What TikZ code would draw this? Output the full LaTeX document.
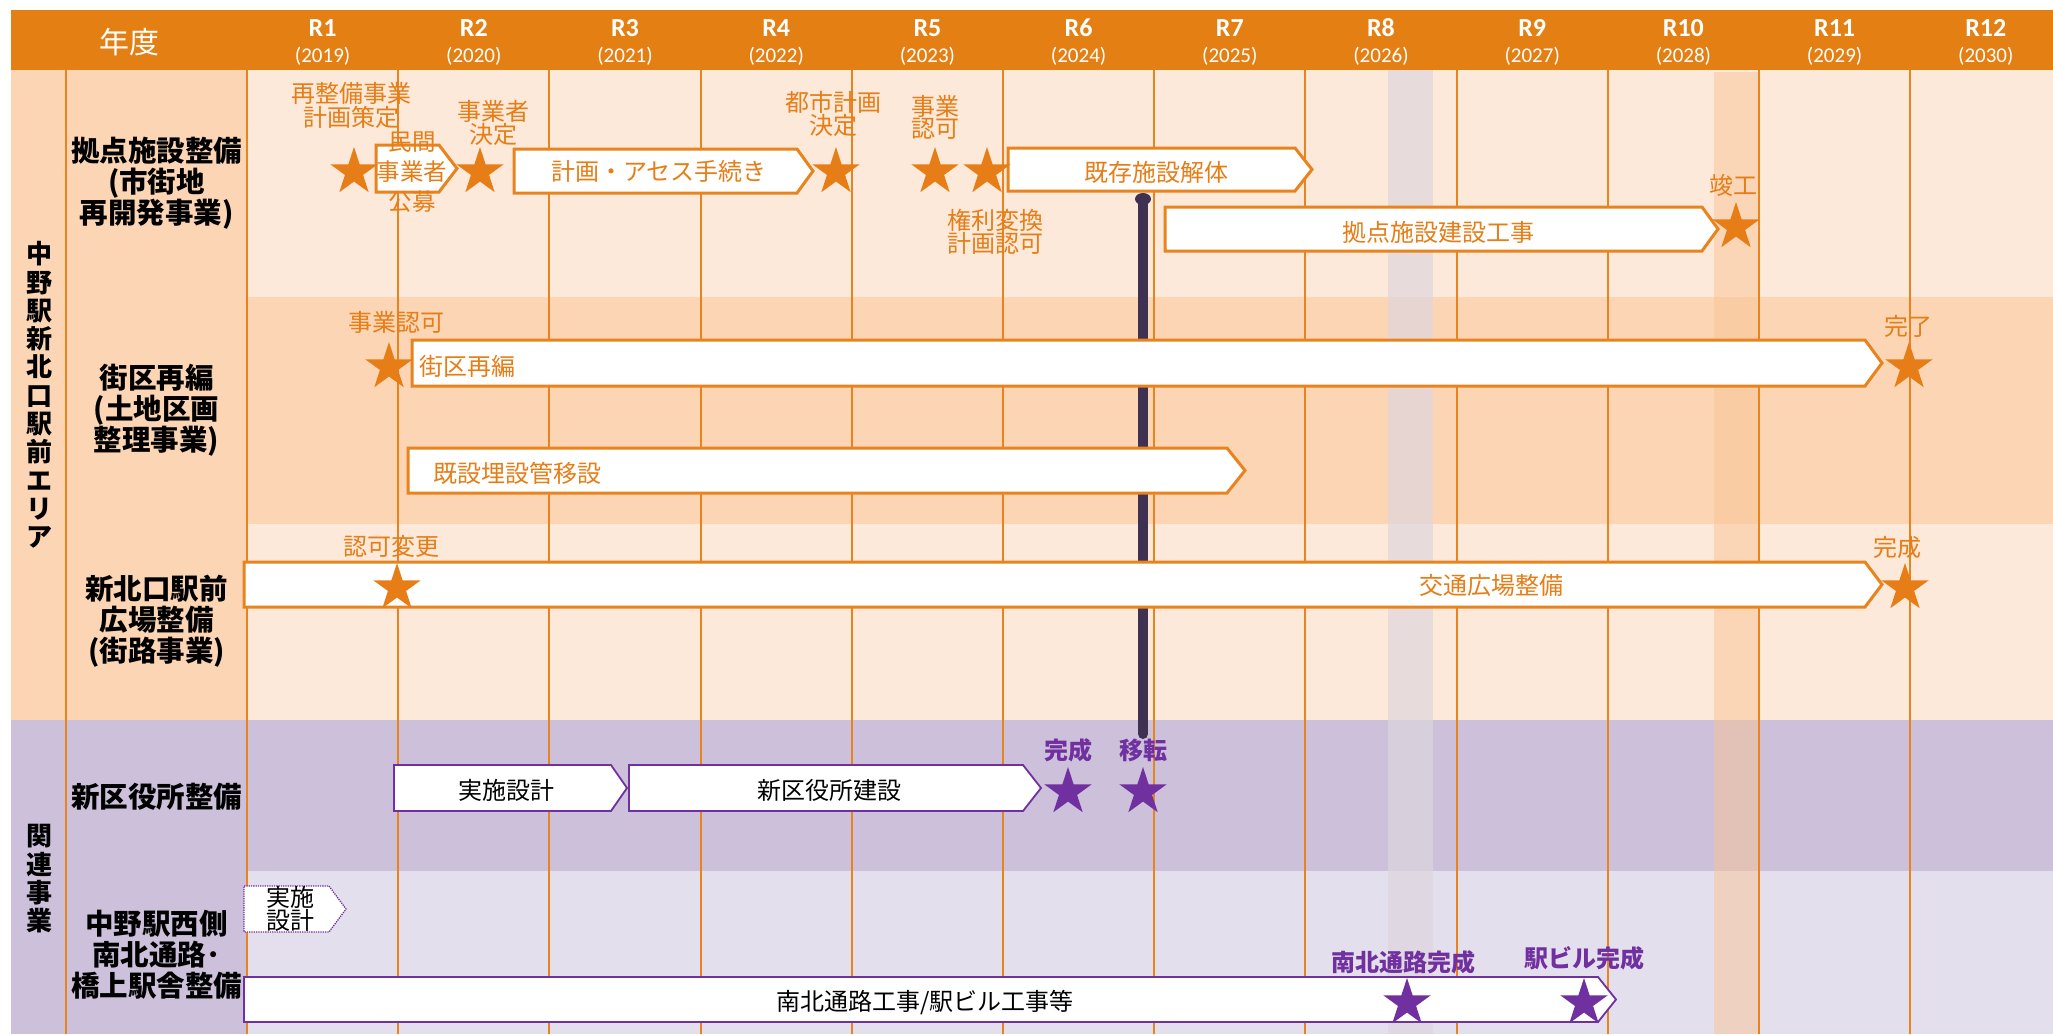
\documentclass[tikz,border=0pt]{standalone}
\usepackage{fontspec}
\setmainfont{Noto Sans CJK JP}
\newfontfamily\latf{Carlito}
\usetikzlibrary{shapes.geometric}
\definecolor{hdr}{RGB}{228,127,19}
\definecolor{ln}{RGB}{232,131,30}
\definecolor{ot}{RGB}{230,125,22}
\definecolor{pl}{RGB}{253,233,217}
\definecolor{pd}{RGB}{252,213,180}
\definecolor{vu}{RGB}{204,192,218}
\definecolor{vl}{RGB}{228,223,236}
\definecolor{pu}{RGB}{112,48,160}
\definecolor{dk}{RGB}{63,49,81}
\definecolor{gb}{RGB}{222,214,222}
\definecolor{ob}{RGB}{248,196,150}
\newcommand\mychev[6]{\draw[#1] (#2,#5) -- (#3,#5) -- (#4,{(#5+#6)/2}) -- (#3,#6) -- (#2,#6) -- cycle;}
\begin{document}
\begin{tikzpicture}[x=1pt,y=-1pt,
  txt/.style={inner sep=0pt, align=center},
  otxt/.style={txt, text=ot, font=\fontsize{24pt}{19pt}\selectfont},
  ptxt/.style={txt, text=pu, font=\fontsize{24pt}{19pt}\selectfont\bfseries},
  btxt/.style={txt, text=black, font=\fontsize{24pt}{22pt}\selectfont},
  rowlbl/.style={txt, text=black, font=\fontsize{28.5pt}{31pt}\selectfont\bfseries},
  seclbl/.style={txt, text=black, font=\fontsize{26pt}{28.3pt}\selectfont\bfseries},
  ostar/.style={star, star points=5, star point ratio=2.618, fill=ot, draw=none, minimum size=50pt, inner sep=0pt},
  pstar/.style={ostar, fill=pu},
  obar/.style={draw=ln, line width=3pt, fill=white},
  pbar/.style={draw=pu, line width=1.8pt, fill=white},
  pdot/.style={draw=pu, line width=1.3pt, densely dotted, fill=white},
  grid/.style={draw=ln, line width=2pt}
]
\useasboundingbox (0,0) rectangle (2053,1034);
\fill[white] (0,0) rectangle (2053,1034);
% header
\fill[hdr] (11,10) rectangle (2053,70);
% backgrounds
\fill[pd] (11,70) rectangle (247,720);
\fill[vu] (11,720) rectangle (247,1034);
\fill[pl] (247,70) rectangle (2053,297);
\fill[pd] (247,297) rectangle (2053,524);
\fill[pl] (247,524) rectangle (2053,720);
\fill[vu] (247,720) rectangle (2053,871);
\fill[vl] (247,871) rectangle (2053,1034);
% highlight bands
\fill[gb, fill opacity=0.7] (1388,70) rectangle (1433,1034);
\fill[ob, fill opacity=0.5] (1714,72) rectangle (1759,1034);
% grid lines
\draw[grid] (66,70) -- (66,1034);
\foreach \i in {0,...,11} { \draw[grid] ({247+151.2*\i},70) -- ({247+151.2*\i},1034); }
% header texts
\node[txt, text=white, font=\fontsize{30pt}{30pt}\selectfont] (nendo) at (129,42) {年度};
\foreach \i in {1,...,12} {
  \pgfmathtruncatemacro\yr{2018+\i}
  \node[txt, text=white, font=\latf\bfseries\fontsize{26pt}{26pt}\selectfont] (r\i) at ({322.6+151.2*(\i-1)},28) {R\i};
  \node[txt, text=white, font=\latf\fontsize{21pt}{21pt}\selectfont] (y\i) at ({322.6+151.2*(\i-1)},56) {(\yr)};
}
% section and row labels
\node[seclbl] (sec1) at (40,395) {中\\野\\駅\\新\\北\\口\\駅\\前\\エ\\リ\\ア};
\node[seclbl] (sec2) at (40,879) {関\\連\\事\\業};
\node[rowlbl] (row1) at (156.5,183) {拠点施設整備\\(市街地\\再開発事業)};
\node[rowlbl] (row2) at (156.5,410) {街区再編\\(土地区画\\整理事業)};
\node[rowlbl] (row3) at (156.5,621) {新北口駅前\\広場整備\\(街路事業)};
\node[rowlbl] (row4) at (156.5,797) {新区役所整備};
\node[rowlbl] (row5) at (156.5,955) {中野駅西側\\南北通路･\\橋上駅舎整備};
% dark bar
\coordinate (barTop) at (1143,199);
\coordinate (barBot) at (1143,734);
\draw[dk, line width=10pt, line cap=round] (barTop) -- (barBot);
\fill[dk] (barTop) ellipse[x radius=8pt, y radius=6pt];
% bars
\mychev{obar}{376}{439}{457}{145}{192}
\mychev{obar}{514}{797}{813}{149}{193}
\mychev{obar}{1008}{1295}{1312}{148}{191}
\mychev{obar}{1165}{1702}{1718}{207}{251}
\mychev{obar}{412}{1865}{1882}{340}{386}
\mychev{obar}{408}{1227}{1245}{448}{493}
\mychev{obar}{244}{1865}{1882}{562}{607}
\mychev{pbar}{394}{611}{627}{765}{811}
\mychev{pbar}{629}{1023}{1041}{765}{811}
\mychev{pdot}{244}{329}{346}{886}{932}
\mychev{pbar}{244}{1598}{1616}{977}{1022}
% stars
\node[ostar] (s1) at (354,172) {};
\node[ostar] (s2) at (480,172) {};
\node[ostar] (s3) at (836,172) {};
\node[ostar] (s4) at (935,172) {};
\node[ostar] (s5) at (987,172) {};
\node[ostar] (s6) at (1736,227) {};
\node[ostar] (s7) at (389,367) {};
\node[ostar] (s8) at (1909,367) {};
\node[ostar] (s9) at (397,588) {};
\node[ostar] (s10) at (1905,588) {};
\node[pstar] (s11) at (1068,792) {};
\node[pstar] (s12) at (1143,792) {};
\node[pstar] (s13) at (1407,1003) {};
\node[pstar] (s14) at (1584,1003) {};
% bar texts
\node[otxt, font=\fontsize{23.5pt}{30pt}\selectfont] (t1) at (412,172) {民間\\事業者\\公募};
\node[otxt] (t2) at (659,171) {計画・アセス手続き};
\node[otxt] (t3) at (1156,172) {既存施設解体};
\node[otxt] (t4) at (1438,232) {拠点施設建設工事};
\node[otxt, anchor=west] (t5) at (419,366) {街区再編};
\node[otxt, anchor=west] (t6) at (433,473) {既設埋設管移設};
\node[otxt] (t7) at (1491,585) {交通広場整備};
\node[btxt] (t8) at (506,790) {実施設計};
\node[btxt] (t9) at (829,790) {新区役所建設};
\node[btxt] (t10) at (290,909) {実施\\設計};
\node[btxt] (t11) at (925,1002) {南北通路工事/駅ビル工事等};
% star labels
\node[otxt] (l1) at (351,105.5) {再整備事業\\計画策定};
\node[otxt] (l2) at (493,122.5) {事業者\\決定};
\node[otxt, font=\fontsize{24pt}{18pt}\selectfont] (l3) at (833,114) {都市計画\\決定};
\node[otxt, font=\fontsize{24pt}{18.5pt}\selectfont] (l4) at (935,117.5) {事業\\認可};
\node[otxt, font=\fontsize{24pt}{17pt}\selectfont] (l5) at (995,232) {権利変換\\計画認可};
\node[otxt] (l6) at (1733,185) {竣工};
\node[otxt] (l7) at (396,322) {事業認可};
\node[otxt] (l8) at (1908,326) {完了};
\node[otxt] (l9) at (391,546) {認可変更};
\node[otxt] (l10) at (1897,547) {完成};
\node[ptxt] (l11) at (1068,750) {完成};
\node[ptxt] (l12) at (1143,750) {移転};
\node[ptxt] (l13) at (1403,962) {南北通路完成};
\node[ptxt] (l14) at (1584,958) {駅ビル完成};
\end{tikzpicture}
\end{document}
